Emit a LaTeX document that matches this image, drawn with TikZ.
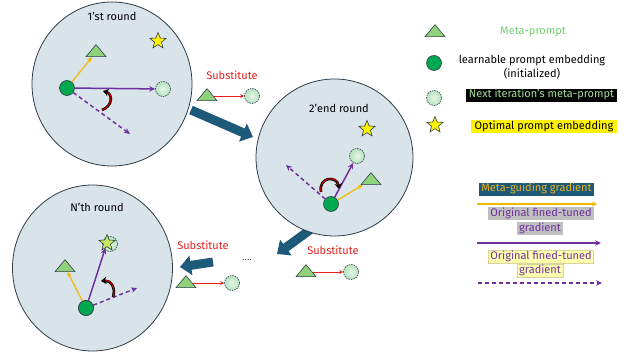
\documentclass[tikz,border=0pt]{standalone}
\usepackage{fontspec}
\setmainfont{Fira Sans}
\usetikzlibrary{shapes.geometric,arrows.meta}
\definecolor{bgc}{HTML}{D9E3EA}
\definecolor{edgec}{HTML}{2E3D48}
\definecolor{trif}{HTML}{8ED37A}
\definecolor{gdotc}{HTML}{00A84F}
\definecolor{ldotin}{HTML}{E6F6E8}
\definecolor{ldotout}{HTML}{B6E2BE}
\definecolor{tealc}{HTML}{1D5A7A}
\definecolor{purp}{HTML}{7030A0}
\definecolor{orng}{HTML}{F2B800}
\definecolor{subred}{HTML}{E8201F}
\definecolor{mpgreen}{HTML}{6FCF6F}
\definecolor{nigreen}{HTML}{A6DD98}
\definecolor{mgtext}{HTML}{E8B020}
\definecolor{graybg}{HTML}{BFBFBF}
\definecolor{pyellow}{HTML}{FFFFB0}
\definecolor{pyedge}{HTML}{D8D49A}
\definecolor{limec}{HTML}{C8E85A}
\tikzset{
  roundbg/.style={ellipse, draw=edgec, fill=bgc, line width=0.8pt, minimum width=160pt, minimum height=164pt, inner sep=0pt},
  tri/.style={isosceles triangle, isosceles triangle stretches, shape border rotate=90, minimum width=20pt, minimum height=12pt, inner sep=0pt, draw=edgec, fill=trif, line width=0.6pt},
  gdot/.style={circle, draw=edgec, fill=gdotc, minimum size=15pt, inner sep=0pt, line width=0.6pt},
  ldot/.style={circle, draw=edgec, dash pattern=on 1.5pt off 1pt, inner color=ldotin, outer color=ldotout, minimum size=15pt, inner sep=0pt, line width=0.6pt},
  starst/.style={star, star points=5, star point ratio=2.3, minimum size=17pt, inner sep=0pt, draw=edgec, fill=yellow, line width=0.6pt},
  garr/.style={orng, line width=1.2pt, -{Stealth[length=5pt,width=4.5pt]}},
  parr/.style={purp, line width=1.5pt, -{Stealth[length=6pt,width=5.5pt]}},
  pdash/.style={parr, dash pattern=on 4pt off 3pt},
  bigarr/.style={tealc, line width=9pt, -{Triangle[length=11pt,width=19pt]}},
  subarr/.style={subred, line width=0.8pt, -{Stealth[length=4pt,width=4pt]}},
  subtxt/.style={text=subred, inner sep=0pt},
  curlblk/.style={black, line width=2.6pt, -{Stealth[length=5.5pt,width=7.5pt, fill=red!85!black]}},
  curlred/.style={red!85!black, line width=1pt, shorten >=4.5pt},
  lbl/.style={inner sep=0pt},
  hl/.style={inner xsep=2pt, inner ysep=1.5pt, text depth=0.25em, text height=0.75em}
}
\begin{document}
\begin{tikzpicture}[x=1pt,y=-1pt, font=\fontsize{11}{13.5}\selectfont]
\useasboundingbox (0,0) rectangle (626,355);

% ---------- big arrow 2 (under circle 2)
\coordinate (b2s) at (314,227);
\coordinate (b2e) at (277,254);
\draw[bigarr] (b2s) -- (b2e);

% ---------- circles
\node[roundbg] (c1) at (112,84) {};
\node[roundbg, minimum width=157pt, minimum height=157pt] (c2) at (334.5,157.5) {};
\node[roundbg, minimum height=166pt] (c3) at (92.5,268) {};

\node[lbl] (r1) at (112,16) {1’st round};
\node[lbl] (r2) at (339,108) {2’end round};
\node[lbl] (r3) at (97,207) {N’th round};

% ---------- round 1
\node[tri] (t1) at (96,52) {};
\node[starst] (s1) at (158,41) {};
\node[ldot] (l1) at (163,89) {};
\node[gdot] (g1) at (67,88) {};
\coordinate (d1) at (130,134);
\draw[garr] (g1) -- (t1);
\draw[parr] (g1) -- (l1);
\draw[pdash] (g1) -- (d1);
\coordinate (k1a) at (102,110);
\coordinate (k1b) at (103,91);
\draw[curlblk] (k1a) .. controls (113,106) and (113,94) .. (k1b);
\draw[curlred] (k1a) .. controls (113,106) and (113,94) .. (k1b);

% ---------- round 2
\node[starst] (s2) at (367,129) {};
\node[ldot] (l2) at (357,156) {};
\node[tri] (t2) at (371,180) {};
\node[gdot] (g2) at (331,204) {};
\coordinate (d2) at (286,165);
\draw[garr] (g2) -- (t2);
\draw[parr] (g2) -- (l2);
\draw[pdash] (g2) -- (d2);
\coordinate (k2a) at (321,192);
\coordinate (k2b) at (339,189);
\draw[curlblk] (k2a) .. controls (318,177) and (337,175) .. (k2b);
\draw[curlred] (k2a) .. controls (318,177) and (337,175) .. (k2b);

% ---------- round N
\node[ldot] (l3) at (110,244) {};
\node[starst, fill=limec, fill opacity=0.9] (s3) at (107,243) {};
\node[tri] (t3) at (65,267) {};
\node[gdot] (g3) at (86,308) {};
\coordinate (d3) at (137,288);
\draw[garr] (g3) -- (t3);
\draw[parr] (g3) -- (s3);
\draw[pdash] (g3) -- (d3);
\node[gdot] at (g3) {};
\coordinate (k3a) at (113,297);
\coordinate (k3b) at (101,281);
\draw[curlblk] (k3a) .. controls (116,288) and (111,280) .. (k3b);
\draw[curlred] (k3a) .. controls (116,288) and (111,280) .. (k3b);

% ---------- big arrows 1 and 3
\coordinate (b1s) at (191,110);
\coordinate (b1e) at (253,137);
\draw[bigarr] (b1s) -- (b1e);
\coordinate (b3s) at (213,262);
\coordinate (b3e) at (180,267);
\draw[bigarr] (b3s) -- (b3e);

% ---------- substitutes
\node[subtxt] (x1) at (232,75) {Substitute};
\node[tri] (st1) at (207,96) {};
\node[ldot] (sl1) at (252,96) {};
\draw[subarr] (st1) -- (sl1);

\node[subtxt] (x2) at (333,250) {Substitute};
\node[tri] (st2) at (306,272) {};
\node[ldot] (sl2) at (351,272) {};
\draw[subarr] (st2) -- (sl2);

\node[subtxt] (x3) at (203,245) {Substitute};
\node[tri] (st3) at (186,283) {};
\node[ldot] (sl3) at (232,283) {};
\draw[subarr] (st3) -- (sl3);

\node[lbl, font=\fontsize{8}{10}\selectfont] (dots) at (247,260) {.\kern0.6pt.\kern0.6pt.\kern0.6pt.};

% ---------- legend top
\node[tri] (lt) at (435,32) {};
\node[lbl, text=mpgreen] (ltt) at (533,32) {Meta-prompt};
\node[gdot] (lg) at (434,63) {};
\node[lbl, align=center] (lgt) at (532,67) {learnable prompt embedding\\(initialized)};
\node[ldot] (ll) at (434,98) {};
\node[hl, fill=black, text=nigreen, minimum width=151pt] (llt) at (541.5,95.5) {Next iteration’s meta-prompt};
\node[starst] (ls) at (435,125) {};
\node[hl, fill=yellow, text=black, minimum width=146pt] (lst) at (544,127) {Optimal prompt embedding};

% ---------- legend bottom
\node[hl, fill=tealc, text=mgtext] (m1) at (536.5,189.5) {Meta-guiding gradient};
\coordinate (a1s) at (477,204);
\coordinate (a1e) at (597,204);
\draw[orng, line width=1.2pt, -{Stealth[length=5pt,width=5pt]}] (a1s) -- (a1e);

\node[hl, fill=graybg, text=purp] (m2a) at (541,214) {Original fined-tuned};
\node[hl, fill=graybg, text=purp] (m2b) at (540,229) {gradient};
\coordinate (a2s) at (477,243);
\coordinate (a2e) at (601,243);
\draw[parr] (a2s) -- (a2e);

\node[hl, fill=pyellow, draw=pyedge, line width=0.4pt, text=purp] (m3a) at (541,257) {Original fined-tuned};
\node[hl, fill=pyellow, draw=pyedge, line width=0.4pt, text=purp] (m3b) at (540,271) {gradient};
\coordinate (a3s) at (478,283);
\coordinate (a3e) at (602,283);
\draw[pdash] (a3s) -- (a3e);
\end{tikzpicture}
\end{document}
